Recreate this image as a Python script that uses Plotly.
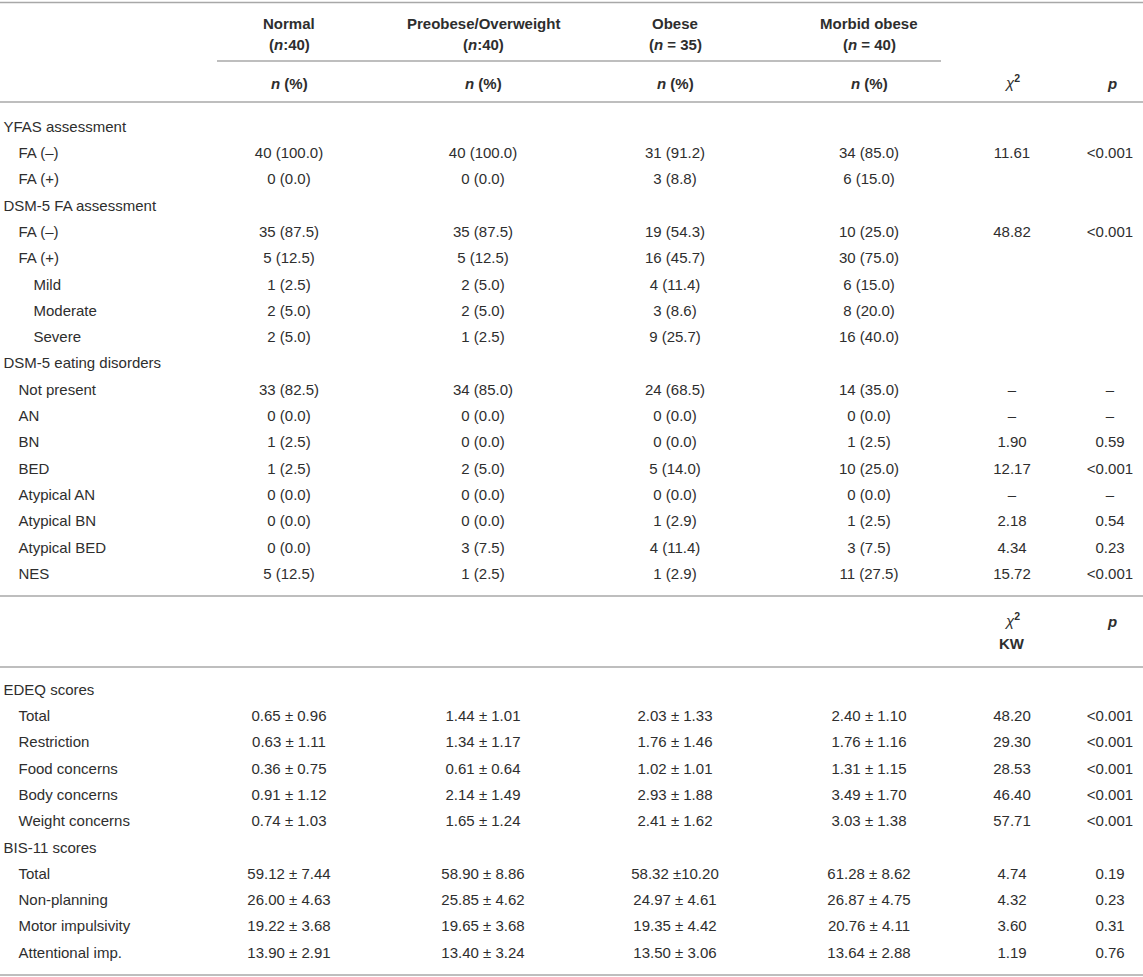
import plotly.graph_objects as go

# ---- header text ----
groups = ["Normal", "Preobese/Overweight", "Obese", "Morbid obese"]
group_n = ["(<i>n</i>:40)", "(<i>n</i>:40)", "(<i>n</i> = 35)", "(<i>n</i> = 40)"]

# ---- upper block: counts n (%) ----
top_labels = ["YFAS assessment", "FA (–)", "FA (+)",
              "DSM-5 FA assessment", "FA (–)", "FA (+)", "Mild", "Moderate", "Severe",
              "DSM-5 eating disorders", "Not present", "AN", "BN", "BED",
              "Atypical AN", "Atypical BN", "Atypical BED", "NES"]
top_normal = ["", "40 (100.0)", "0 (0.0)",
              "", "35 (87.5)", "5 (12.5)", "1 (2.5)", "2 (5.0)", "2 (5.0)",
              "", "33 (82.5)", "0 (0.0)", "1 (2.5)", "1 (2.5)",
              "0 (0.0)", "0 (0.0)", "0 (0.0)", "5 (12.5)"]
top_preobese = ["", "40 (100.0)", "0 (0.0)",
                "", "35 (87.5)", "5 (12.5)", "2 (5.0)", "2 (5.0)", "1 (2.5)",
                "", "34 (85.0)", "0 (0.0)", "0 (0.0)", "2 (5.0)",
                "0 (0.0)", "0 (0.0)", "3 (7.5)", "1 (2.5)"]
top_obese = ["", "31 (91.2)", "3 (8.8)",
             "", "19 (54.3)", "16 (45.7)", "4 (11.4)", "3 (8.6)", "9 (25.7)",
             "", "24 (68.5)", "0 (0.0)", "0 (0.0)", "5 (14.0)",
             "0 (0.0)", "1 (2.9)", "4 (11.4)", "1 (2.9)"]
top_morbid = ["", "34 (85.0)", "6 (15.0)",
              "", "10 (25.0)", "30 (75.0)", "6 (15.0)", "8 (20.0)", "16 (40.0)",
              "", "14 (35.0)", "0 (0.0)", "1 (2.5)", "10 (25.0)",
              "0 (0.0)", "1 (2.5)", "3 (7.5)", "11 (27.5)"]
top_chi2 = ["", "11.61", "",
            "", "48.82", "", "", "", "",
            "", "–", "–", "1.90", "12.17",
            "–", "2.18", "4.34", "15.72"]
top_p = ["", "<0.001", "",
         "", "<0.001", "", "", "", "",
         "", "–", "–", "0.59", "<0.001",
         "–", "0.54", "0.23", "<0.001"]

# ---- lower block: mean ± SD ----
bottom_labels = ["EDEQ scores", "Total", "Restriction", "Food concerns", "Body concerns",
                 "Weight concerns", "BIS-11 scores", "Total", "Non-planning",
                 "Motor impulsivity", "Attentional imp."]
bottom_normal = ["", "0.65 ± 0.96", "0.63 ± 1.11", "0.36 ± 0.75", "0.91 ± 1.12", "0.74 ± 1.03",
                 "", "59.12 ± 7.44", "26.00 ± 4.63", "19.22 ± 3.68", "13.90 ± 2.91"]
bottom_preobese = ["", "1.44 ± 1.01", "1.34 ± 1.17", "0.61 ± 0.64", "2.14 ± 1.49", "1.65 ± 1.24",
                   "", "58.90 ± 8.86", "25.85 ± 4.62", "19.65 ± 3.68", "13.40 ± 3.24"]
bottom_obese = ["", "2.03 ± 1.33", "1.76 ± 1.46", "1.02 ± 1.01", "2.93 ± 1.88", "2.41 ± 1.62",
                "", "58.32 ±10.20", "24.97 ± 4.61", "19.35 ± 4.42", "13.50 ± 3.06"]
bottom_morbid = ["", "2.40 ± 1.10", "1.76 ± 1.16", "1.31 ± 1.15", "3.49 ± 1.70", "3.03 ± 1.38",
                 "", "61.28 ± 8.62", "26.87 ± 4.75", "20.76 ± 4.11", "13.64 ± 2.88"]
bottom_chi2 = ["", "48.20", "29.30", "28.53", "46.40", "57.71",
               "", "4.74", "4.32", "3.60", "1.19"]
bottom_p = ["", "<0.001", "<0.001", "<0.001", "<0.001", "<0.001",
            "", "0.19", "0.23", "0.31", "0.76"]

# ---- layout (pixel-unit axes) ----
W, H = 1143, 977
FONT = "Liberation Sans, Arial, sans-serif"
TXT = "#2e2e2e"
RULE = "#a8a8a8"
FS = 15
COL_X = [289, 483, 675, 869, 1012, 1110]
INDENT_X = [3.5, 18.5, 33.5]
top_indent = [0, 1, 1, 0, 1, 1, 2, 2, 2, 0, 1, 1, 1, 1, 1, 1, 1, 1]
bottom_indent = [0, 1, 1, 1, 1, 1, 0, 1, 1, 1, 1]
ROW_H = 26.3
TOP_Y0 = 128
BOTTOM_Y0 = 691

fig = go.Figure()


def add_block(labels, indent, cols, y0):
    ys = [y0 + i * ROW_H for i in range(len(labels))]
    fig.add_trace(go.Scatter(
        x=[INDENT_X[k] for k in indent], y=ys, text=labels, mode="text",
        textposition="middle right", textfont=dict(family=FONT, size=FS, color=TXT),
        hoverinfo="skip", cliponaxis=False))
    for cx, col in zip(COL_X, cols):
        pts = [(y, t) for y, t in zip(ys, col) if t]
        fig.add_trace(go.Scatter(
            x=[cx] * len(pts), y=[p[0] for p in pts], text=[p[1] for p in pts],
            mode="text", textposition="middle center",
            textfont=dict(family=FONT, size=FS, color=TXT),
            hoverinfo="skip", cliponaxis=False))


add_block(top_labels, top_indent,
          [top_normal, top_preobese, top_obese, top_morbid, top_chi2, top_p], TOP_Y0)
add_block(bottom_labels, bottom_indent,
          [bottom_normal, bottom_preobese, bottom_obese, bottom_morbid, bottom_chi2, bottom_p],
          BOTTOM_Y0)

# header annotations
hdr = dict(font=dict(family=FONT, size=FS, color=TXT), showarrow=False,
           xref="x", yref="y", xanchor="center", yanchor="middle")
for cx, g, n in zip(COL_X, groups, group_n):
    fig.add_annotation(x=cx, y=23, text=f"<b>{g}</b>", **hdr)
    fig.add_annotation(x=cx, y=44, text=f"<b>{n}</b>", **hdr)
    fig.add_annotation(x=cx, y=83, text="<b><i>n</i> (%)</b>", **hdr)
fig.add_annotation(x=COL_X[4], y=81, text="<i>χ</i><sup><b>2</b></sup>", **hdr)
fig.add_annotation(x=COL_X[5] + 2, y=83, text="<b><i>p</i></b>", **hdr)
fig.add_annotation(x=COL_X[4], y=619, text="<i>χ</i><sup><b>2</b></sup>", **hdr)
fig.add_annotation(x=COL_X[4], y=643, text="<b>KW</b>", **hdr)
fig.add_annotation(x=COL_X[5] + 2, y=621, text="<b><i>p</i></b>", **hdr)

# horizontal rules
rules = [(0, W, 2.5, 1.6), (217, 941, 61, 1.3), (0, W, 102, 1.6),
         (0, W, 596, 1.6), (0, W, 667, 1.6), (0, W, 975, 1.6)]
for x0, x1, y, w in rules:
    fig.add_shape(type="line", xref="x", yref="y", x0=x0, x1=x1, y0=y, y1=y,
                  line=dict(color=RULE, width=w))

fig.update_xaxes(range=[0, W], visible=False, fixedrange=True)
fig.update_yaxes(range=[H, 0], visible=False, fixedrange=True)
fig.update_layout(width=W, height=H, margin=dict(l=0, r=0, t=0, b=0),
                  paper_bgcolor="white", plot_bgcolor="white",
                  showlegend=False, hovermode=False)

fig.write_html("out.html", config={"displayModeBar": False},
               post_script="document.body.style.margin='0';")
